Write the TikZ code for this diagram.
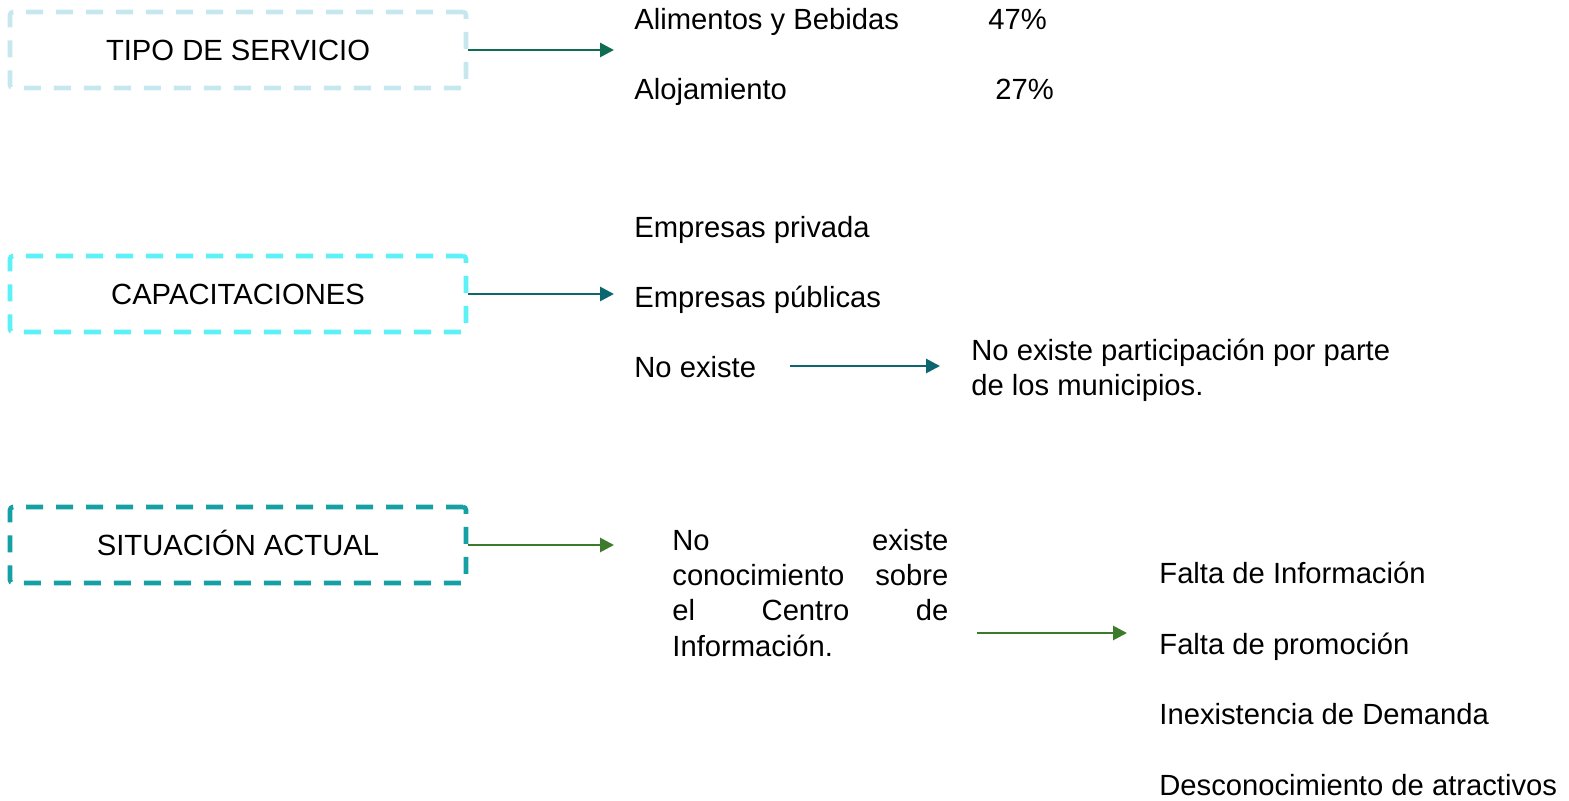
\documentclass[tikz,border=0pt]{standalone}
\usepackage{fontspec}
\setmainfont{Liberation Sans}
\usetikzlibrary{arrows.meta}
\definecolor{celeste}{HTML}{C6E7ED}
\definecolor{cian}{HTML}{5CF1F7}
\definecolor{turquesa}{HTML}{14A0A5}
\definecolor{verdeA}{HTML}{0F6B52}
\definecolor{azulA}{HTML}{0C6670}
\definecolor{verdeB}{HTML}{3C7A2C}

\begin{document}
\begin{tikzpicture}[x=0.5pt,y=-0.5pt,
    every node/.style={font=\fontsize{14.6}{17.6}\selectfont,inner sep=0pt},
    txt/.style={anchor=base west},
    caja/.style={draw,line width=2.3pt,dash pattern=on 8.5pt off 6.5pt,rounded corners=1.5pt,
        minimum width=228pt,minimum height=38pt,text height=10.4pt,text depth=0pt},
    flecha/.style={line width=1.4pt,-{Triangle[length=7pt,width=7pt]}}]
    \useasboundingbox (0,0) rectangle (1569,801);
    % cajas
    \node[caja,draw=celeste] (tipo) at (238,50) {TIPO DE SERVICIO};
    \node[caja,draw=cian] (capac) at (238,294) {CAPACITACIONES};
    \node[caja,draw=turquesa] (situ) at (238,545) {SITUACIÓN ACTUAL};
    \coordinate (tipoF) at (614,50);
    \coordinate (capacF) at (614,294);
    \coordinate (situF) at (614,545);
    \draw[flecha,verdeA] (tipo) -- (tipoF);
    \draw[flecha,azulA] (capac) -- (capacF);
    \draw[flecha,verdeB] (situ) -- (situF);
    % tipo de servicio
    \node[txt] (alim) at (634,29.5) {Alimentos y Bebidas};
    \node[txt] (alimP) at (988,29.5) {47\%};
    \node[txt] (aloj) at (634,99.5) {Alojamiento};
    \node[txt] (alojP) at (995,99.5) {27\%};
    % capacitaciones
    \node[txt] (priv) at (634,237.5) {Empresas privada};
    \node[txt] (publ) at (634,307.5) {Empresas públicas};
    \node[txt] (noex) at (634,377.5) {No existe};
    \node[txt,align=left] (noexpart) at (971,395.5) {No existe participación por parte\\de los municipios.};
    \coordinate (noexA) at (790,366);
    \coordinate (noexB) at (940,366);
    \draw[flecha,azulA] (noexA) -- (noexB);
    % situacion actual
    \node[txt,text width=138pt,align=left] (noconoc) at (672,550.5)
        {No\hfill existe\\conocimiento\hfill sobre\\el\hfill Centro\hfill de\\Información.};
    \coordinate (causaA) at (977,633);
    \coordinate (causaB) at (1127,633);
    \draw[flecha,verdeB] (causaA) -- (causaB);
    \node[txt] (falInf) at (1159,583.5) {Falta de Información};
    \node[txt] (falProm) at (1159,654.5) {Falta de promoción};
    \node[txt] (inexDem) at (1159,724.5) {Inexistencia de Demanda};
    \node[txt] (descAtr) at (1159,795) {Desconocimiento de atractivos};
\end{tikzpicture}
\end{document}
